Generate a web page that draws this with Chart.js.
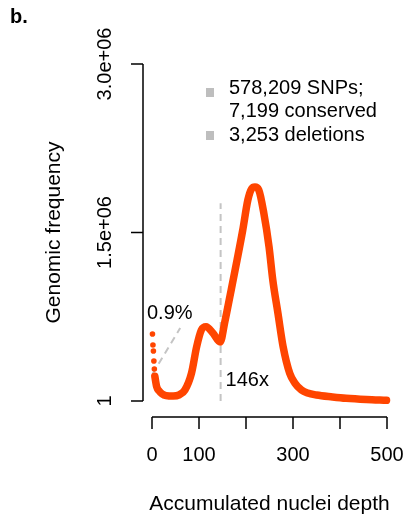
<!DOCTYPE html>
<html>
<head>
<meta charset="utf-8">
<script src="https://cdn.jsdelivr.net/npm/chart.js@4/dist/chart.umd.min.js"></script>
<style>
    html, body { margin: 0; padding: 0; background: #fff; }
    #chart { display: block; }
</style>
</head>
<body>
<canvas id="chart" width="409" height="519"></canvas>
<script>
// values
const depth = [6, 10, 15, 21, 30, 45, 58, 70, 84, 95, 105, 115, 130, 145, 155, 169, 181, 193, 204, 212, 219, 227, 238, 249, 257, 268, 279, 293, 304, 318, 331, 350, 384, 413, 456, 499];
const frequency = [220000, 127000, 90000, 65000, 48000, 44000, 55000, 98000, 247000, 483000, 632000, 662000, 603000, 525000, 706000, 1000000, 1255000, 1520000, 1790000, 1890000, 1905000, 1880000, 1670000, 1374000, 1077000, 780000, 483000, 247000, 160000, 98000, 71000, 53000, 36000, 24000, 13000, 6000];

// first few depths sit apart from the curve
const lowDepth = [1, 2, 3, 4, 5];
const lowFrequency = [596000, 499000, 445000, 356000, 285000];

// 146x cutoff and the 0.9% pointer
const cutoffX = [146, 146];
const cutoffY = [0, 1760000];
const pointerX = [1, 60];
const pointerY = [240000, 650000];

const xTicks = [0, 100, 200, 300, 400, 500];
const xTickLabels = ['0', '100', '', '300', '', '500'];
const yTicks = [1, 1500000, 3000000];
const yTickLabels = ['1', '1.5e+06', '3.0e+06'];

const legendLines = [['578,209 SNPs;', '7,199 conserved'], ['3,253 deletions']];

const RED = '#ff4500';
const GREY = '#c4c4c4';
const FONT = '"Liberation Sans", Arial, sans-serif';

const toPoints = (xs, ys) => xs.map((x, i) => ({ x: x, y: ys[i] }));

const rAxes = {
    id: 'rAxes',
    afterDraw(chart) {
        const ctx = chart.ctx;
        const xs = chart.scales.x;
        const ys = chart.scales.y;
        const axisY = ys.getPixelForValue(0) + 16;
        const axisX = xs.getPixelForValue(0) - 9;
        const tick = 12;

        ctx.save();
        ctx.strokeStyle = '#000';
        ctx.fillStyle = '#000';
        ctx.lineWidth = 1.5;
        ctx.font = '20px ' + FONT;

        // x axis
        ctx.beginPath();
        ctx.moveTo(xs.getPixelForValue(xTicks[0]), axisY);
        ctx.lineTo(xs.getPixelForValue(xTicks[xTicks.length - 1]), axisY);
        xTicks.forEach((v) => {
            const px = xs.getPixelForValue(v);
            ctx.moveTo(px, axisY);
            ctx.lineTo(px, axisY + tick);
        });
        ctx.stroke();
        ctx.textAlign = 'center';
        ctx.textBaseline = 'middle';
        xTicks.forEach((v, i) => {
            if (xTickLabels[i]) ctx.fillText(xTickLabels[i], xs.getPixelForValue(v), axisY + 38);
        });
        ctx.font = '21px ' + FONT;
        ctx.fillText('Accumulated nuclei depth', (xs.left + xs.right) / 2, 504);

        // y axis
        ctx.beginPath();
        ctx.moveTo(axisX, ys.getPixelForValue(yTicks[0]));
        ctx.lineTo(axisX, ys.getPixelForValue(yTicks[yTicks.length - 1]));
        yTicks.forEach((v) => {
            const py = ys.getPixelForValue(v);
            ctx.moveTo(axisX, py);
            ctx.lineTo(axisX - tick, py);
        });
        ctx.stroke();
        ctx.font = '20px ' + FONT;
        yTicks.forEach((v, i) => {
            ctx.save();
            ctx.translate(axisX - 38, ys.getPixelForValue(v));
            ctx.rotate(-Math.PI / 2);
            ctx.fillText(yTickLabels[i], 0, 0);
            ctx.restore();
        });
        ctx.save();
        ctx.font = '21px ' + FONT;
        ctx.translate(54, (ys.top + ys.bottom) / 2);
        ctx.rotate(-Math.PI / 2);
        ctx.fillText('Genomic frequency', 0, 0);
        ctx.restore();

        // annotations
        ctx.textAlign = 'left';
        ctx.font = '20px ' + FONT;
        ctx.fillText('0.9%', 147, 313);
        ctx.fillText('146x', xs.getPixelForValue(146) + 5, 380);

        // legend
        ctx.fillStyle = '#bebebe';
        ctx.fillRect(206, 88, 8, 9);
        ctx.fillRect(206, 131, 8, 9);
        ctx.fillStyle = '#000';
        ctx.fillText(legendLines[0][0], 229, 88);
        ctx.fillText(legendLines[0][1], 229, 111);
        ctx.fillText(legendLines[1][0], 229, 135);

        // panel tag
        ctx.font = 'bold 20px ' + FONT;
        ctx.fillText('b.', 10, 17);
        ctx.restore();
    },
};

new Chart(document.getElementById('chart'), {
    type: 'scatter',
    data: {
        datasets: [
            {
                data: toPoints(depth, frequency),
                showLine: true,
                borderColor: RED,
                borderWidth: 7.5,
                borderCapStyle: 'round',
                borderJoinStyle: 'round',
                cubicInterpolationMode: 'monotone',
                pointRadius: 0,
                clip: false,
            },
            {
                data: toPoints(lowDepth, lowFrequency),
                backgroundColor: RED,
                borderWidth: 0,
                pointRadius: 2.8,
                clip: false,
            },
            {
                data: toPoints(cutoffX, cutoffY),
                showLine: true,
                borderColor: GREY,
                borderWidth: 2,
                borderDash: [7, 5],
                pointRadius: 0,
                clip: false,
            },
            {
                data: toPoints(pointerX, pointerY),
                showLine: true,
                borderColor: GREY,
                borderWidth: 2,
                borderDash: [7, 5],
                pointRadius: 0,
                clip: false,
            },
        ],
    },
    options: {
        responsive: false,
        animation: false,
        devicePixelRatio: 1,
        layout: { padding: { left: 152, right: 22, top: 64, bottom: 118 } },
        plugins: { legend: { display: false }, tooltip: { enabled: false } },
        scales: {
            x: { type: 'linear', min: 0, max: 500, display: false },
            y: { type: 'linear', min: 0, max: 3000000, display: false },
        },
    },
    plugins: [rAxes],
});
</script>
</body>
</html>
